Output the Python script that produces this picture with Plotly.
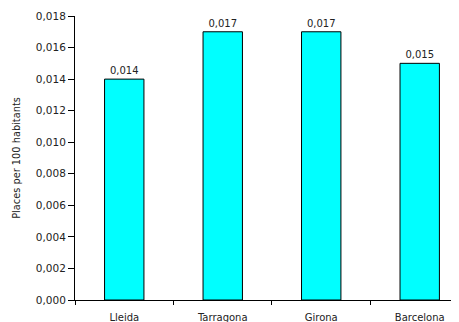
import plotly.graph_objects as go

provinces = ["Lleida", "Tarragona", "Girona", "Barcelona"]
places = [0.014, 0.017, 0.017, 0.015]
y_ticks = [0.000, 0.002, 0.004, 0.006, 0.008, 0.010, 0.012, 0.014, 0.016, 0.018]

FONT = "DejaVu Sans, Verdana, sans-serif"

fig = go.Figure()
fig.add_trace(go.Bar(
    x=provinces,
    y=places,
    width=0.4,
    marker=dict(color="#00FFFF", line=dict(color="#000000", width=1)),
    texttemplate="%{y:.3f}",
    textposition="outside",
    textfont=dict(family=FONT, size=10, color="#222222"),
    cliponaxis=False,
    hoverinfo="skip",
))

# the page body adds ~8px offset, so margins are shifted to compensate
fig.update_layout(
    width=459,
    height=322,
    margin=dict(l=67, r=0, t=8, b=30),
    plot_bgcolor="white",
    paper_bgcolor="white",
    separators=", ",
    showlegend=False,
    font=dict(family=FONT, size=10, color="#222222"),
)
fig.update_xaxes(
    type="category",
    range=[-0.5, 3.48],
    showline=True,
    linecolor="black",
    linewidth=1,
    ticks="outside",
    tickson="boundaries",
    ticklen=4,
    tickcolor="black",
    ticklabelstandoff=8,
    showgrid=False,
    tickfont=dict(family=FONT, size=10, color="#222222"),
)
fig.update_yaxes(
    range=[0, 0.018],
    tickvals=y_ticks,
    tickformat=".3f",
    showline=True,
    linecolor="black",
    linewidth=1,
    ticks="outside",
    ticklen=6,
    tickcolor="black",
    showgrid=False,
    zeroline=False,
    tickfont=dict(family=FONT, size=10.5, color="#222222"),
    title=dict(text="Places per 100 habitants", font=dict(family=FONT, size=9.8, color="#222222"), standoff=13),
)

fig.write_html("out.html")
